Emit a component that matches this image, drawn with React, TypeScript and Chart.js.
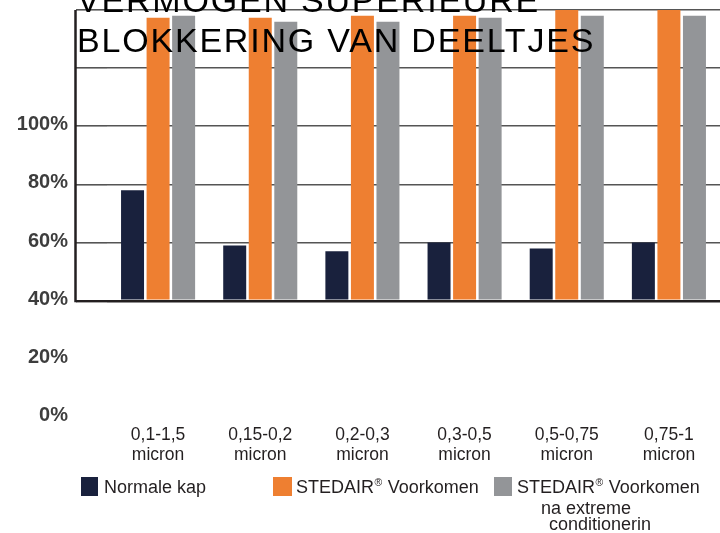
import React, { useEffect, useRef } from "react";
import { Chart, registerables } from "chart.js";

Chart.register(...registerables);

const FONT = '"Liberation Sans", Arial, Helvetica, sans-serif';

// ---- data ----
const titleLines = ["VERMOGEN SUPERIEURE", "BLOKKERING VAN DEELTJES"];
const categories = [
  ["0,1-1,5", "micron"],
  ["0,15-0,2", "micron"],
  ["0,2-0,3", "micron"],
  ["0,3-0,5", "micron"],
  ["0,5-0,75", "micron"],
  ["0,75-1", "micron"],
];
const normaleKap = [78, 59, 57, 60, 58, 60];
const stedairVoorkomen = [137.3, 137.3, 138, 138, 140, 140];
const stedairExtreme = [138, 136, 136, 137.3, 138, 138];
const seriesLabels = [
  ["Normale kap"],
  ["STEDAIR® Voorkomen"],
  ["STEDAIR® Voorkomen", "na extreme", "conditionerin"],
];
const seriesColors = ["#19213d", "#ee7f31", "#939598"];
const yMin = 0;
const yMax = 140;
const yStep = 20;
const yLabelMax = 100;
const barBase = 40;

function drawRich(ctx: CanvasRenderingContext2D, text: string, x: number, y: number, size: number) {
  const parts = text.split("®");
  let cx = x;
  parts.forEach((p, i) => {
    ctx.font = `${size}px ${FONT}`;
    ctx.fillText(p, cx, y);
    cx += ctx.measureText(p).width;
    if (i < parts.length - 1) {
      const s = size * 0.58;
      ctx.font = `${s}px ${FONT}`;
      ctx.fillText("®", cx + 0.5, y - size * 0.36);
      cx += ctx.measureText("®").width + 1;
    }
  });
}

const overlayPlugin = {
  id: "overlay",
  afterDatasetsDraw(chart: any) {
    const ctx = chart.ctx as CanvasRenderingContext2D;
    const y = chart.scales.y;
    ctx.save();
    ctx.strokeStyle = "#231f20";
    ctx.lineWidth = 2.5;
    ctx.beginPath();
    ctx.moveTo(75.5, y.getPixelForValue(yMax));
    ctx.lineTo(75.5, y.getPixelForValue(barBase) + 1.5);
    ctx.stroke();
    ctx.restore();
  },
  afterDraw(chart: any) {
    const ctx = chart.ctx as CanvasRenderingContext2D;
    ctx.save();
    // title
    ctx.fillStyle = "#000";
    ctx.textBaseline = "alphabetic";
    ctx.textAlign = "left";
    ctx.font = `34px ${FONT}`;
    (ctx as any).letterSpacing = "1.8px";
    titleLines.forEach((t, i) => ctx.fillText(t, 77, 12 + i * 40));
    (ctx as any).letterSpacing = "0px";

    // legend
    const boxX = [81, 273, 494];
    const boxW = [17, 19, 18];
    const textX = [104, 296, 517];
    const lineDx = [0, 24, 32];
    const lineDy = [0, 21.5, 37];
    const size = 18;
    chart.data.datasets.forEach((ds: any, i: number) => {
      ctx.fillStyle = ds.backgroundColor;
      ctx.fillRect(boxX[i], 477, boxW[i], 19);
      ctx.fillStyle = "#231f20";
      seriesLabels[i].forEach((line, j) => {
        drawRich(ctx, line, textX[i] + lineDx[j], 492.5 + lineDy[j], size);
      });
    });
    ctx.restore();
  },
};

export default function App() {
  const ref = useRef<HTMLCanvasElement | null>(null);

  useEffect(() => {
    if (!ref.current) return;
    Chart.defaults.font.family = FONT;
    const chart = new Chart(ref.current, {
      type: "bar",
      data: {
        labels: categories as any,
        datasets: [
          { label: seriesLabels[0].join(" "), data: normaleKap, backgroundColor: seriesColors[0], base: barBase } as any,
          { label: seriesLabels[1].join(" "), data: stedairVoorkomen, backgroundColor: seriesColors[1], base: barBase } as any,
          { label: seriesLabels[2].join(" "), data: stedairExtreme, backgroundColor: seriesColors[2], base: barBase } as any,
        ],
      },
      options: {
        responsive: false,
        animation: false,
        layout: { padding: { top: 10, left: 0, right: 0, bottom: 0 } },
        datasets: { bar: { categoryPercentage: 0.75, barPercentage: 0.9 } },
        plugins: {
          legend: { display: false },
          title: { display: false },
          tooltip: { enabled: false },
        },
        scales: {
          x: {
            grid: { display: false },
            border: { display: false },
            ticks: {
              color: "#231f20",
              font: { size: 17.5, family: FONT, lineHeight: 1.1 },
              padding: 1,
              maxRotation: 0,
              autoSkip: false,
            },
            afterFit: (s: any) => {
              s.height = 116;
            },
          },
          y: {
            min: yMin,
            max: yMax,
            ticks: {
              stepSize: yStep,
              callback: (v: any) => (Number(v) <= yLabelMax ? `${v}%` : ""),
              color: "#3d3d3d",
              font: { size: 20, weight: "bold", family: FONT },
              padding: 8,
              labelOffset: -1.5,
            },
            grid: {
              color: (c: any) =>
                c.tick && c.tick.value >= barBase
                  ? c.tick.value === barBase
                    ? "#231f20"
                    : "#555555"
                  : "rgba(0,0,0,0)",
              lineWidth: (c: any) => (c.tick && c.tick.value === barBase ? 2.4 : 1.6),
              tickLength: 31,
            },
            border: { display: false },
            afterFit: (s: any) => {
              s.width = 107;
              s.paddingTop = 0;
            },
          },
        },
      } as any,
      plugins: [overlayPlugin],
    });
    return () => chart.destroy();
  }, []);

  return (
    <div style={{ position: "fixed", left: 0, top: 0, width: 720, height: 533, background: "#fff" }}>
      <canvas ref={ref} width={720} height={533} />
    </div>
  );
}
